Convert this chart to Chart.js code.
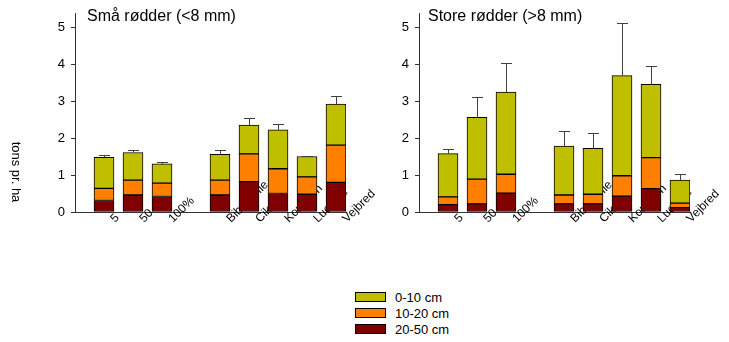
<!DOCTYPE html>
<html>
<head>
<meta charset="utf-8">
<script src="https://cdn.jsdelivr.net/npm/chart.js@4.4.1/dist/chart.umd.min.js"></script>
<style>
body{margin:0;background:#fff;font-family:"Liberation Sans",Arial,sans-serif}
#wrap{position:relative;width:729px;height:342px;overflow:hidden}
#venstre{position:absolute;left:0;top:0}
#hojre{position:absolute;left:340px;top:0}
#legende{position:absolute;left:355px;top:289px;font-size:13px;color:#000}
.rk{display:flex;align-items:center;height:16px}
.bx{width:29px;height:8px;border:1px solid #000;margin-right:9px}
</style>
</head>
<body>
<div id="wrap">
<canvas id="venstre" width="390" height="240"></canvas>
<canvas id="hojre" width="389" height="240"></canvas>
<div id="legende"></div>
</div>
<script>
// kategorier, tomme pladser giver mellemrum mellem grupperne
const kategorier = ['', '5', '50', '100%', '', 'Bibernelle', 'Cikorie', 'Kommen', 'Lucerne', 'Vejbred'];
const dybder = ['20-50 cm', '10-20 cm', '0-10 cm'];
const farver = ['#800000', '#ff8000', '#bfbf00'];

// små rødder (<8 mm), tons pr. ha
const smaa2050 = [0.31, 0.46, 0.42, 0.46, 0.82, 0.50, 0.48, 0.80];
const smaa1020 = [0.33, 0.40, 0.36, 0.40, 0.75, 0.67, 0.47, 1.01];
const smaa010 = [0.84, 0.75, 0.52, 0.70, 0.78, 1.05, 0.55, 1.11];
const smaaFejl = [0.06, 0.07, 0.06, 0.13, 0.18, 0.15, 0.02, 0.23];

// store rødder (>8 mm)
const store2050 = [0.20, 0.22, 0.51, 0.22, 0.22, 0.43, 0.63, 0.12];
const store1020 = [0.21, 0.67, 0.51, 0.24, 0.26, 0.55, 0.84, 0.12];
const store010 = [1.17, 1.67, 2.22, 1.32, 1.24, 2.71, 1.98, 0.62];
const storeFejl = [0.13, 0.54, 0.78, 0.40, 0.42, 1.41, 0.50, 0.16];

const pladser = kategorier.map((k, i) => k ? i : -1).filter(i => i >= 0);
const skrift = '"Liberation Sans", Arial, sans-serif';

const lavSaet = (serier) => serier.map((vaerdier, n) => ({
    label: dybder[n],
    data: vaerdier.map((v, j) => ({x: pladser[j], y: v})),
    backgroundColor: farver[n],
    borderColor: '#000000',
    borderWidth: 1,
    borderSkipped: false,
    stack: 'a',
    barThickness: 20
}));

// skriver kategorinavne skraat, bag soejlerne
const etiketter = {
    id: 'etiketter',
    beforeDatasetsDraw(chart) {
        const ctx = chart.ctx;
        const xs = chart.scales.x;
        const bund = chart.scales.y.bottom;
        ctx.save();
        ctx.font = '12px ' + skrift;
        ctx.fillStyle = '#000';
        ctx.textAlign = 'left';
        ctx.textBaseline = 'alphabetic';
        pladser.forEach(p => {
            ctx.save();
            ctx.translate(xs.getPixelForValue(p) + 11, bund + 11);
            ctx.rotate(-Math.PI / 4);
            ctx.fillText(kategorier[p], 0, 0);
            ctx.restore();
        });
        ctx.restore();
    }
};

// fejllinjer kun opad, plus titel
const ekstra = {
    id: 'ekstra',
    afterDatasetsDraw(chart, args, opts) {
        const ctx = chart.ctx;
        const ys = chart.scales.y;
        const sidste = chart.getDatasetMeta(chart.data.datasets.length - 1);
        ctx.save();
        ctx.strokeStyle = '#404040';
        ctx.lineWidth = 1;
        opts.fejl.forEach((f, j) => {
            let sum = 0;
            chart.data.datasets.forEach(d => sum += d.data[j].y);
            const bar = sidste.data[j];
            const x = Math.round(bar.x) + 0.5;
            const top = Math.round(ys.getPixelForValue(sum + f)) + 0.5;
            ctx.beginPath();
            ctx.moveTo(x, bar.y);
            ctx.lineTo(x, top);
            ctx.moveTo(x - 5.5, top);
            ctx.lineTo(x + 5.5, top);
            ctx.stroke();
        });
        ctx.restore();
    },
    afterDraw(chart, args, opts) {
        const ctx = chart.ctx;
        ctx.save();
        ctx.fillStyle = '#000';
        ctx.font = '16px ' + skrift;
        ctx.textBaseline = 'middle';
        ctx.fillText(opts.titel, chart.chartArea.left + opts.titelX, 17);
        if (opts.akse) {
            ctx.font = '13px ' + skrift;
            ctx.textAlign = 'center';
            ctx.translate(16, 172);
            ctx.rotate(Math.PI / 2);
            ctx.fillText(opts.akse, 0, 0);
        }
        ctx.restore();
    }
};

const lavDiagram = (id, serier, fejl, titel, akse, aksebredde, hoejrePad, titelX) => new Chart(document.getElementById(id), {
    type: 'bar',
    data: {datasets: lavSaet(serier)},
    plugins: [etiketter, ekstra],
    options: {
        responsive: false,
        animation: false,
        layout: {padding: {top: 5, right: hoejrePad, left: 0, bottom: 0}},
        plugins: {
            legend: {display: false},
            tooltip: {enabled: false},
            ekstra: {fejl: fejl, titel: titel, akse: akse, titelX: titelX}
        },
        scales: {
            x: {
                type: 'linear',
                offset: false,
                min: 0,
                max: 271 / 29,
                ticks: {display: false},
                grid: {display: false},
                border: {display: true, color: '#333333', width: 1},
                afterFit: s => { s.height = 28; }
            },
            y: {
                stacked: true,
                min: 0,
                max: 5.36,
                ticks: {stepSize: 1, includeBounds: false, color: '#000', padding: 6, font: {family: skrift, size: 13}},
                grid: {display: true, drawOnChartArea: false, drawTicks: true, tickLength: 4, color: '#333333'},
                border: {display: true, color: '#333333', width: 1},
                afterFit: s => { s.width = aksebredde; }
            }
        }
    }
});

lavDiagram('venstre', [smaa2050, smaa1020, smaa010], smaaFejl, 'Små rødder (<8 mm)', 'tons pr. ha', 75, 44, 12);
lavDiagram('hojre', [store2050, store1020, store010], storeFejl, 'Store rødder (>8 mm)', '', 79, 39, 9);

// legende, oeverste lag foerst
const legende = document.getElementById('legende');
for (let n = dybder.length - 1; n >= 0; n--) {
    const rk = document.createElement('div');
    rk.className = 'rk';
    rk.innerHTML = '<div class="bx" style="background:' + farver[n] + '"></div><span>' + dybder[n] + '</span>';
    legende.appendChild(rk);
}
</script>
</body>
</html>
